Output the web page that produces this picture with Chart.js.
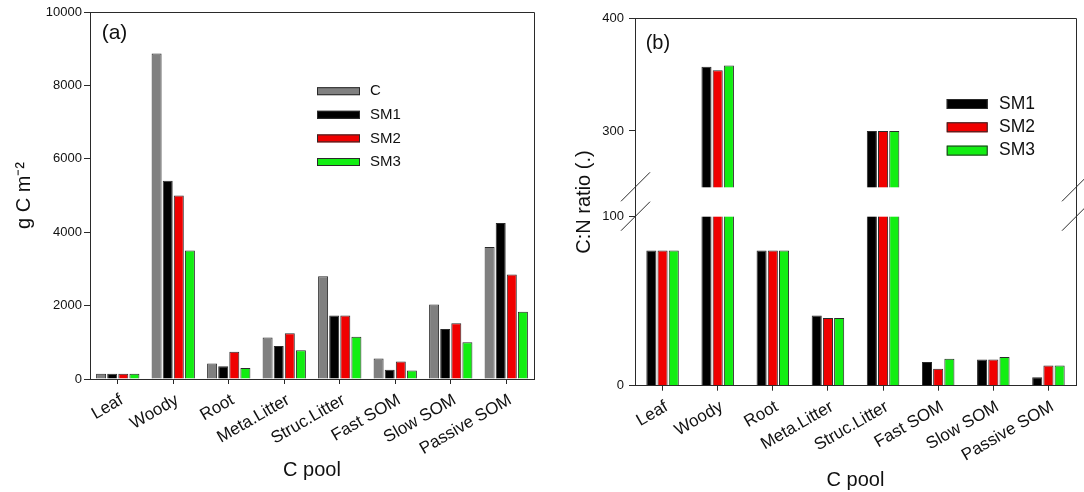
<!DOCTYPE html>
<html>
<head>
<meta charset="utf-8">
<script src="https://cdn.jsdelivr.net/npm/chart.js@4/dist/chart.umd.min.js"></script>
<style>
body{margin:0;background:#fff;}
#wrap{position:relative;width:1084px;height:492px;}
#chart-a{position:absolute;left:0;top:0;}
#chart-b{position:absolute;left:545px;top:0;}
</style>
</head>
<body>
<div id="wrap">
<canvas id="chart-a" width="545" height="492"></canvas>
<canvas id="chart-b" width="539" height="492"></canvas>
</div>
<script>
var pools = ["Leaf", "Woody", "Root", "Meta.Litter", "Struc.Litter", "Fast SOM", "Slow SOM", "Passive SOM"];

// panel (a): C stock, g C m-2
var stockC   = [140, 8870, 420, 1130, 2800, 560, 2030, 3600];
var stockSM1 = [140, 5400, 350, 900, 1730, 250, 1360, 4250];
var stockSM2 = [140, 5000, 740, 1250, 1730, 480, 1520, 2850];
var stockSM3 = [140, 3500, 300, 780, 1150, 230, 1000, 1830];
var stockTicks = [0, 2000, 4000, 6000, 8000, 10000];

// panel (b): C:N ratio, axis broken between 100 and 250
var cnSM1 = [80, 357, 80, 41.5, 300, 14, 15.5, 5];
var cnSM2 = [80, 354, 80, 40, 300, 10, 15.5, 12];
var cnSM3 = [80, 358, 80, 40, 300, 16, 17, 12];
var cnTicks = [0, 100, 300, 400];
var cnBreak = [100, 250];

var colC = "#808080", colSM1 = "#000000", colSM2 = "#f00000", colSM3 = "#12ee12";
var edge = "#2a2a2a";

Chart.defaults.font.family = "'Liberation Sans', Arial, sans-serif";
Chart.defaults.color = "#1a1a1a";

// linear scale with a gap: 0..100 on the lower part, 250..400 on the upper part
class BrokenScale extends Chart.LinearScale {
  buildTicks() {
    return cnTicks.map(function (v) { return {value: v}; });
  }
  toDecimal(v) {
    var lowPart = 0.46, gapPart = 0.08;
    if (v <= cnBreak[0]) return v / cnBreak[0] * lowPart;
    if (v < cnBreak[1]) return lowPart + (v - cnBreak[0]) / (cnBreak[1] - cnBreak[0]) * gapPart;
    return lowPart + gapPart + (v - cnBreak[1]) / (this.max - cnBreak[1]) * (1 - lowPart - gapPart);
  }
  getPixelForValue(value) {
    if (value === null || value === undefined) return NaN;
    return this.getPixelForDecimal(this.toDecimal(value));
  }
  getValueForPixel(pixel) {
    var d = this.getDecimalForPixel(pixel);
    var lowPart = 0.46, gapPart = 0.08;
    if (d <= lowPart) return d / lowPart * cnBreak[0];
    if (d < lowPart + gapPart) return cnBreak[0] + (d - lowPart) / gapPart * (cnBreak[1] - cnBreak[0]);
    return cnBreak[1] + (d - lowPart - gapPart) / (1 - lowPart - gapPart) * (this.max - cnBreak[1]);
  }
}
BrokenScale.id = "broken";
Chart.register(BrokenScale);

var panelDecor = {
  id: "panelDecor",
  afterDatasetsDraw: function (chart, args, opts) {
    if (!opts.gap) return;
    var a = chart.chartArea, ctx = chart.ctx, y = chart.scales.y;
    var yLow = y.getPixelForValue(cnBreak[0]), yHigh = y.getPixelForValue(cnBreak[1]);
    ctx.save();
    ctx.fillStyle = "#ffffff";
    ctx.fillRect(a.left + 1, yHigh, a.right - a.left - 2, yLow - yHigh);
    ctx.restore();
  },
  afterDraw: function (chart, args, opts) {
    var a = chart.chartArea, ctx = chart.ctx;
    ctx.save();
    ctx.strokeStyle = edge;
    ctx.lineWidth = 1;
    ctx.beginPath();
    ctx.moveTo(a.left, Math.round(a.top) + 0.5);
    ctx.lineTo(Math.round(a.right) + 0.5, Math.round(a.top) + 0.5);
    ctx.lineTo(Math.round(a.right) + 0.5, a.bottom);
    ctx.stroke();

    if (opts.gap) {
      var y = chart.scales.y;
      [a.left, a.right].forEach(function (x) {
        cnBreak.forEach(function (v) {
          var py = y.getPixelForValue(v);
          ctx.beginPath();
          ctx.moveTo(x - 14, py + 14);
          ctx.lineTo(x + 15, py - 15);
          ctx.stroke();
        });
      });
    }

    ctx.fillStyle = "#111";
    ctx.textBaseline = "middle";
    ctx.textAlign = "left";
    ctx.font = opts.tagSize + "px 'Liberation Sans', Arial, sans-serif";
    ctx.fillText(opts.tag, a.left + opts.tagX, a.top + opts.tagY);

    var lg = opts.legend;
    ctx.font = lg.size + "px 'Liberation Sans', Arial, sans-serif";
    chart.data.datasets.forEach(function (ds, i) {
      var cy = a.top + lg.y + i * lg.dy;
      ctx.fillStyle = ds.backgroundColor;
      ctx.fillRect(a.left + lg.x, cy - lg.h / 2, lg.w, lg.h);
      ctx.strokeStyle = edge;
      ctx.strokeRect(a.left + lg.x + 0.5, cy - lg.h / 2 + 0.5, lg.w - 1, lg.h - 1);
      ctx.fillStyle = "#111";
      ctx.fillText(ds.label, a.left + lg.x + lg.textX, cy);
    });
    ctx.restore();
  }
};

function barSet(label, data, color) {
  return {label: label, data: data, backgroundColor: color, borderColor: edge, borderWidth: 1};
}

function xAxis(titlePad) {
  return {
    grid: {display: true, drawOnChartArea: false, drawTicks: true, tickLength: 5, offset: false, color: edge},
    border: {display: true, color: edge, width: 1},
    ticks: {autoSkip: false, maxRotation: 30, minRotation: 30, padding: 6, labelOffset: 4, font: {size: 17}, color: "#111"},
    title: {display: true, text: "C pool", font: {size: 20}, color: "#111", padding: {top: 0, bottom: titlePad}},
    afterFit: function (scale) { scale.height = 492 - scale.chart.options.layout.padding.top - scale.chart.options.plotHeight; }
  };
}

var configA = {
  type: "bar",
  data: {
    labels: pools,
    datasets: [
      barSet("C", stockC, colC),
      barSet("SM1", stockSM1, colSM1),
      barSet("SM2", stockSM2, colSM2),
      barSet("SM3", stockSM3, colSM3)
    ]
  },
  options: {
    responsive: false,
    animation: false,
    events: [],
    plotHeight: 367,
    layout: {padding: {top: 12, right: 11, bottom: 0, left: 0}},
    datasets: {bar: {categoryPercentage: 0.8, barPercentage: 0.9}},
    scales: {
      x: xAxis(9.5),
      y: {
        min: 0, max: 10000,
        afterBuildTicks: function (scale) { scale.ticks = stockTicks.map(function (v) { return {value: v}; }); },
        grid: {display: true, drawOnChartArea: false, drawTicks: true, tickLength: 6, color: edge},
        border: {display: true, color: edge, width: 1},
        ticks: {padding: 2, font: {size: 13}, color: "#111", callback: function (v) { return String(v); }},
        title: {display: true, text: "g C m\u207B\u00B2", font: {size: 20}, color: "#111", padding: {top: 12.5, bottom: 0}},
        afterFit: function (scale) { scale.width = 90; }
      }
    },
    plugins: {
      legend: {display: false},
      tooltip: {enabled: false},
      panelDecor: {
        tag: "(a)", tagX: 11.7, tagY: 21, tagSize: 21, gap: false,
        legend: {x: 227, y: 79.2, dy: 23.6, w: 43, h: 8, textX: 53, size: 15}
      }
    }
  },
  plugins: [panelDecor]
};

var configB = {
  type: "bar",
  data: {
    labels: pools,
    datasets: [
      barSet("SM1", cnSM1, colSM1),
      barSet("SM2", cnSM2, colSM2),
      barSet("SM3", cnSM3, colSM3)
    ]
  },
  options: {
    responsive: false,
    animation: false,
    events: [],
    plotHeight: 367.4,
    layout: {padding: {top: 18.3, right: 8, bottom: 0, left: 0}},
    datasets: {bar: {categoryPercentage: 0.61, barPercentage: 0.9}},
    scales: {
      x: xAxis(0),
      y: {
        type: "broken",
        min: 0, max: 400,
        grid: {display: true, drawOnChartArea: false, drawTicks: true, tickLength: 6, color: edge},
        border: {display: true, color: edge, width: 1},
        ticks: {padding: 5, font: {size: 13}, color: "#111", callback: function (v) { return String(v); }},
        title: {display: true, text: "C:N ratio (.)", font: {size: 20}, color: "#111", padding: {top: 27, bottom: 0}},
        afterFit: function (scale) { scale.width = 90; }
      }
    },
    plugins: {
      legend: {display: false},
      tooltip: {enabled: false},
      panelDecor: {
        tag: "(b)", tagX: 10.7, tagY: 24.7, tagSize: 20, gap: true,
        legend: {x: 311.7, y: 85.7, dy: 23.3, w: 41, h: 10, textX: 52.3, size: 17.5}
      }
    }
  },
  plugins: [panelDecor]
};

var stockChart = new Chart(document.getElementById("chart-a"), configA);
var ratioChart = new Chart(document.getElementById("chart-b"), configB);
</script>
</body>
</html>
